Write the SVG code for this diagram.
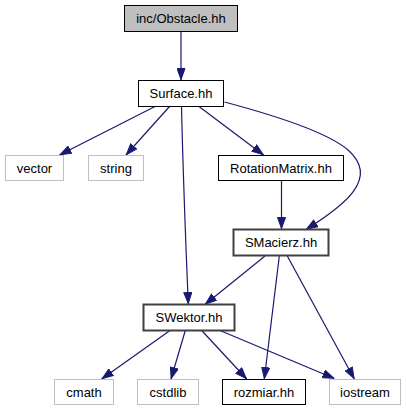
<svg xmlns="http://www.w3.org/2000/svg" width="407" height="411" viewBox="0 0 407 411">
<defs>
<style>
text{font-family:"Liberation Sans",Arial,sans-serif;font-size:13px;text-anchor:middle;fill:#000}
.n rect{fill:#fff;stroke:#000;stroke-width:1}
.g rect{fill:#fff;stroke:#bfbfbf;stroke-width:1}
.d rect{fill:#fff;stroke:#404040;stroke-width:2}
.e path{fill:none;stroke:#191970;stroke-width:1.2}
</style>
<marker id="ah" viewBox="0 0 12 9" refX="12" refY="4.5" markerWidth="12" markerHeight="9" markerUnits="userSpaceOnUse" orient="auto">
<path d="M0.5,0.5 L11.5,4.5 L0.5,8.5 Z" fill="#191970" stroke="#191970"/>
</marker>
</defs>
<rect width="407" height="411" fill="#fff"/>
<g class="e">
<path marker-end="url(#ah)" d="M181,32 L181,80"/>
<path marker-end="url(#ah)" d="M155,106.5 L59.5,155"/>
<path marker-end="url(#ah)" d="M169.5,106.5 L126,155"/>
<path marker-end="url(#ah)" d="M181.5,106.5 C183,170 186,250 188.3,304"/>
<path marker-end="url(#ah)" d="M199,106.5 L263.5,155"/>
<path marker-end="url(#ah)" d="M224.5,102 C262,112 325,130 348,150 C380,178 345,205 306,229.5"/>
<path marker-end="url(#ah)" d="M281.5,181 L281.5,229"/>
<path marker-end="url(#ah)" d="M265,256 L205,304.5"/>
<path marker-end="url(#ah)" d="M279.3,256 L264.3,379"/>
<path marker-end="url(#ah)" d="M287.3,256 L354.3,379"/>
<path marker-end="url(#ah)" d="M170,330.5 L101.7,379"/>
<path marker-end="url(#ah)" d="M185.3,330.5 L171,379"/>
<path marker-end="url(#ah)" d="M201.7,330.5 L246.7,379"/>
<path marker-end="url(#ah)" d="M220,330.5 L334.3,378.5"/>
</g>
<g id="obstacle" class="n"><rect x="124.5" y="5.5" width="113" height="26" style="fill:#bfbfbf"/><text x="181" y="23">inc/Obstacle.hh</text></g>
<g id="surface" class="n"><rect x="138.5" y="80.5" width="85" height="26"/><text x="181" y="98">Surface.hh</text></g>
<g id="vector" class="g"><rect x="5.5" y="155.5" width="58" height="25"/><text x="34.5" y="172.5">vector</text></g>
<g id="string" class="g"><rect x="88.5" y="155.5" width="55" height="25"/><text x="116" y="172.5">string</text></g>
<g id="rotationmatrix" class="n"><rect x="218.5" y="155.5" width="125" height="25"/><text x="281" y="172.5">RotationMatrix.hh</text></g>
<g id="smacierz" class="d"><rect x="233.5" y="229.5" width="95" height="26"/><text x="281" y="247">SMacierz.hh</text></g>
<g id="swektor" class="d"><rect x="143.5" y="304.5" width="91" height="26"/><text x="189" y="322">SWektor.hh</text></g>
<g id="cmath" class="g"><rect x="54.5" y="379.5" width="59" height="25"/><text x="84" y="396.5">cmath</text></g>
<g id="cstdlib" class="g"><rect x="137.5" y="379.5" width="61" height="25"/><text x="168" y="396.5">cstdlib</text></g>
<g id="rozmiar" class="n"><rect x="222.5" y="379.5" width="83" height="25"/><text x="264" y="396.5">rozmiar.hh</text></g>
<g id="iostream" class="g"><rect x="329.5" y="379.5" width="71" height="25"/><text x="365" y="396.5">iostream</text></g>
</svg>
